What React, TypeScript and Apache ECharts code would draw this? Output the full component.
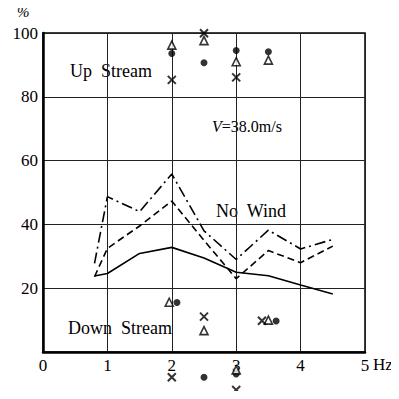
import React, { useEffect, useRef } from "react";
import * as echarts from "echarts";

const freq = [0.8, 1, 1.5, 2, 2.5, 3, 3.5, 4, 4.5];
const dashDotVals = [27.8, 48.7, 44, 55.8, 38, 29, 38.2, 32.3, 35.3];
const dashedVals = [23.6, 32.5, 39.5, 47.3, 35, 23, 31.8, 28, 33.2];
const solidVals = [23.8, 24.6, 30.9, 32.8, 29.5, 25, 23.9, 21, 18.2];

const circlePts: [number, number][] = [
  [2, 93.6], [2.5, 90.7], [3, 94.5], [3.5, 94.1],
  [2.08, 15.5], [3.62, 9.7], [2.5, -7.9], [3, -6.9],
];
const trianglePts: [number, number][] = [
  [2, 96.2], [2.5, 97.6], [3, 91], [3.5, 91.5],
  [1.96, 15.6], [2.5, 6.7], [3.5, 10], [3, -5.6],
];
const crossPts: [number, number][] = [
  [2, 85.3], [2.5, 99.9], [3, 86.1],
  [2.5, 11.1], [3.4, 9.8], [2, -7.9], [3, -11.9],
];

const yTicks = [0, 20, 40, 60, 80, 100];
const xTicks = [0, 1, 2, 3, 4, 5];

const FONT = "Liberation Serif";

export default function App() {
  const ref = useRef<HTMLDivElement>(null);
  useEffect(() => {
    if (!ref.current) return;
    const chart = echarts.init(ref.current, null, { renderer: "svg" });
    const pair = (vals: number[]) => freq.map((f, i) => [f, vals[i]]);
    const lineBase = {
      type: "line",
      symbol: "none",
      silent: true,
    };
    const txt = (text: string, left: number, top: number, size: number, italic = false) => ({
      type: "text",
      left,
      top,
      style: {
        text,
        fontFamily: FONT,
        fontSize: size,
        fontStyle: italic ? "italic" : "normal",
        fill: "#000",
      },
    });
    chart.setOption({
      animation: false,
      grid: {
        left: 43,
        right: 34,
        top: 33,
        bottom: 47,
        show: true,
        borderColor: "#000",
        borderWidth: 1.5,
      },
      xAxis: {
        type: "value",
        min: xTicks[0],
        max: xTicks[xTicks.length - 1],
        interval: 1,
        axisLine: { show: true, onZero: false, lineStyle: { color: "#000", width: 2.5 } },
        axisTick: { show: false },
        splitLine: { show: true, lineStyle: { color: "#222", width: 1 } },
        axisLabel: { color: "#000", fontFamily: FONT, fontSize: 17, margin: 5 },
      },
      yAxis: {
        type: "value",
        min: yTicks[0],
        max: yTicks[yTicks.length - 1],
        interval: 20,
        axisLine: { show: true, onZero: false, lineStyle: { color: "#000", width: 2.5 } },
        axisTick: { show: false },
        splitLine: { show: true, lineStyle: { color: "#222", width: 1 } },
        axisLabel: {
          color: "#000",
          fontFamily: FONT,
          fontSize: 17,
          margin: 5,
          formatter: (v: number) => (v === 0 ? "" : String(v)),
        },
      },
      graphic: [
        txt("%", 17, 4, 15, true),
        txt("Hz", 373, 356, 17),
        txt("Up  Stream", 70, 62, 18),
        txt("Down  Stream", 68, 319, 18),
        txt("No  Wind", 216, 202, 18),
        {
          type: "text",
          left: 212,
          top: 118,
          style: {
            text: "{i|V}{n|=38.0m/s}",
            rich: {
              i: { fontFamily: FONT, fontSize: 16, fontStyle: "italic", fill: "#000" },
              n: { fontFamily: FONT, fontSize: 16, fill: "#000" },
            },
          },
        },
      ],
      series: [
        { ...lineBase, data: pair(dashDotVals), lineStyle: { color: "#000", width: 1.6, type: [11, 4, 2, 4] } },
        { ...lineBase, data: pair(dashedVals), lineStyle: { color: "#000", width: 1.6, type: [7, 4] } },
        { ...lineBase, data: pair(solidVals), lineStyle: { color: "#000", width: 1.6, type: "solid" } },
        {
          type: "scatter",
          clip: false,
          data: circlePts,
          symbol: "circle",
          symbolSize: 7,
          itemStyle: { color: "#000" },
        },
        {
          type: "scatter",
          clip: false,
          data: trianglePts,
          symbol: "triangle",
          symbolSize: 8,
          itemStyle: { color: "#fff", borderColor: "#000", borderWidth: 1.6 },
        },
        {
          type: "scatter",
          clip: false,
          data: crossPts,
          symbol: "path://M0,0L10,10M10,0L0,10",
          symbolSize: 8,
          itemStyle: { color: "none", borderColor: "#000", borderWidth: 2 },
        },
      ],
    });
    return () => chart.dispose();
  }, []);
  return <div ref={ref} style={{ width: 399, height: 399, margin: -8 }} />;
}
